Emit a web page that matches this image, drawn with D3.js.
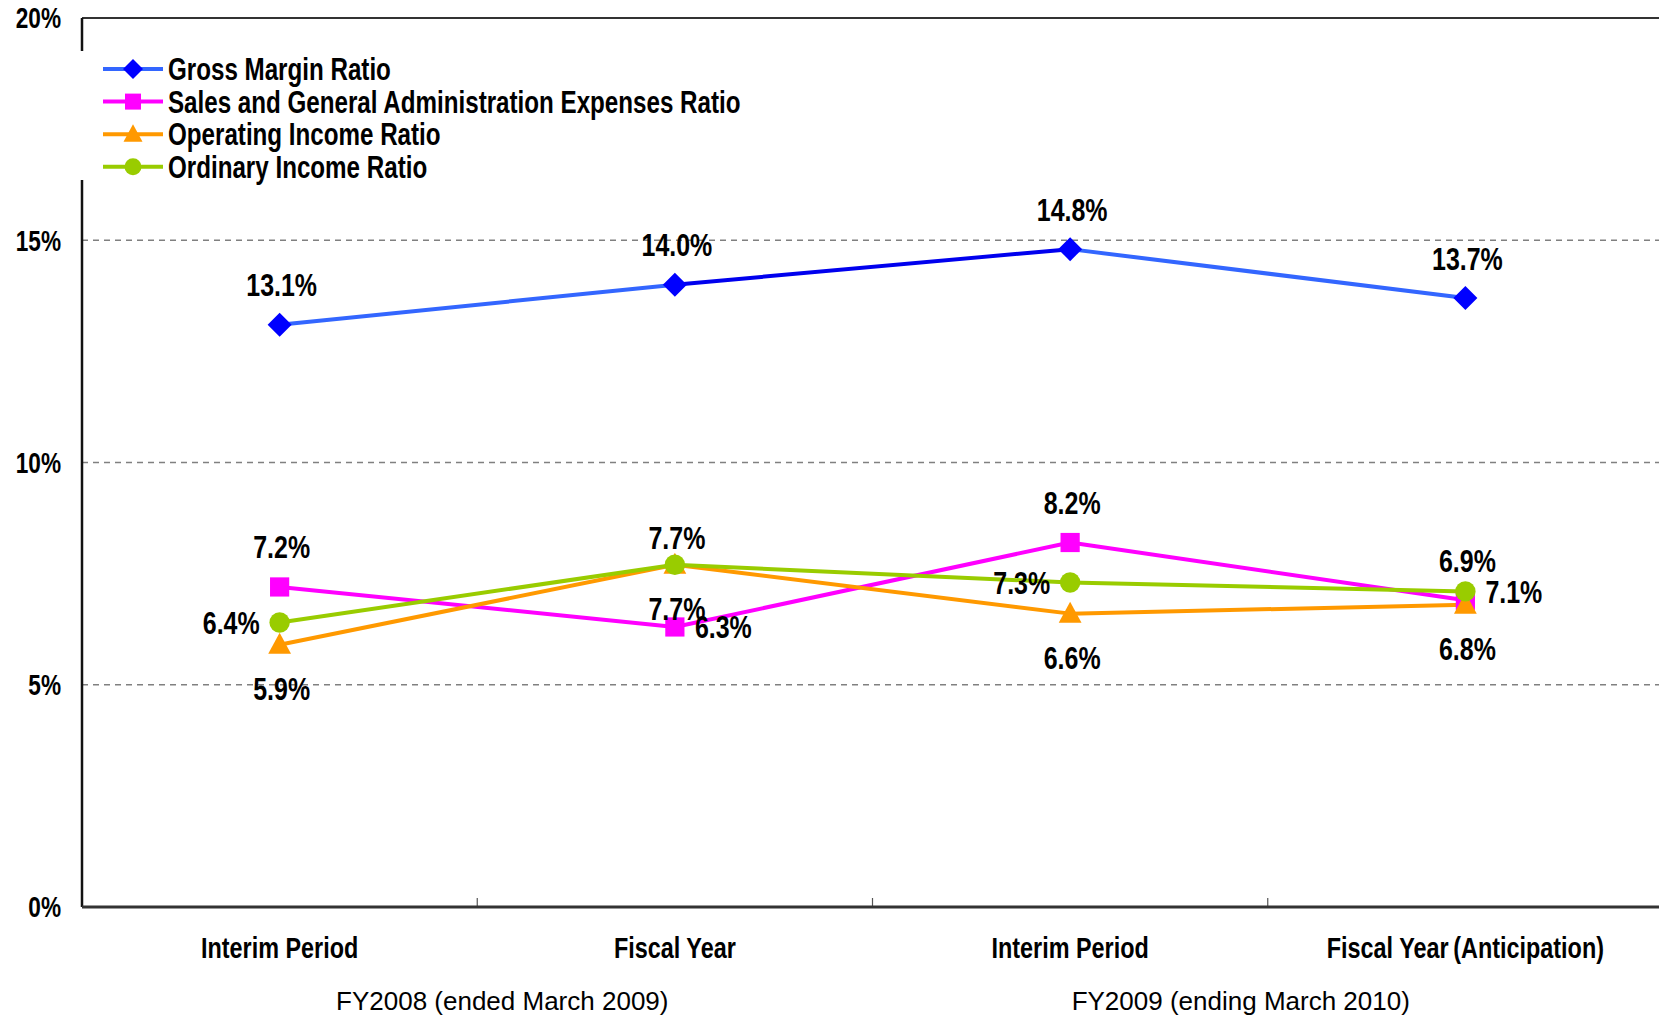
<!DOCTYPE html>
<html>
<head>
<meta charset="utf-8">
<script src="https://cdn.jsdelivr.net/npm/d3@7"></script>
<style>
  body { margin: 0; background: #fff; }
  .cond { font-family: "Liberation Sans", Arial, sans-serif; font-weight: bold; }
</style>
</head>
<body>
<div id="chart-area"></div>
<script>
const categories = ['Interim Period', 'Fiscal Year', 'Interim Period', 'Fiscal Year\u2009(Anticipation)']
const groups = ['FY2008 (ended March 2009)', 'FY2009 (ending March 2010)']
const yTicks = [0, 5, 10, 15, 20]

const grossMargin = [13.1, 14.0, 14.8, 13.7]
const sgaRatio = [7.2, 6.3, 8.2, 6.9]
const operatingIncome = [5.9, 7.7, 6.6, 6.8]
const ordinaryIncome = [6.4, 7.7, 7.3, 7.1]

const seriesNames = ['Gross Margin Ratio', 'Sales and General Administration Expenses Ratio',
  'Operating Income Ratio', 'Ordinary Income Ratio']

// label position per point: up, near (just above), down, left, right
const series = [
  { name: seriesNames[0], values: grossMargin, color: '#3366ff', marker: '#0000ff', shape: 'diamond',
    pos: ['up', 'up', 'up', 'up'] },
  { name: seriesNames[1], values: sgaRatio, color: '#ff00ff', marker: '#ff00ff', shape: 'square',
    pos: ['up', 'right', 'up', 'up'] },
  { name: seriesNames[2], values: operatingIncome, color: '#ff9900', marker: '#ff9900', shape: 'triangle',
    pos: ['down', 'down', 'down', 'down'] },
  { name: seriesNames[3], values: ordinaryIncome, color: '#99cc00', marker: '#99cc00', shape: 'circle',
    pos: ['left', 'near', 'left', 'right'] }
]

const W = 1659, H = 1019
const MARGIN = { LEFT: 82, RIGHT: -4, TOP: 18, BOTTOM: 112 }
const WIDTH = W - MARGIN.LEFT - MARGIN.RIGHT
const HEIGHT = H - MARGIN.TOP - MARGIN.BOTTOM
const SQUEEZE = 0.78

const svg = d3.select('#chart-area').append('svg')
  .attr('width', W)
  .attr('height', H)

const g = svg.append('g')
  .attr('transform', `translate(${MARGIN.LEFT}, ${MARGIN.TOP})`)

const x = d3.scaleBand()
  .domain(d3.range(categories.length))
  .range([0, WIDTH])

const y = d3.scaleLinear()
  .domain([0, 20])
  .range([HEIGHT, 0])

// narrow bold text: place with a transform so it can be squeezed
function placeCond(sel, fx, fy) {
  sel.attr('class', 'cond')
    .attr('transform', (d, i) => `translate(${fx(d, i)}, ${fy(d, i)}) scale(${SQUEEZE}, 1)`)
}

// grid
g.selectAll('.grid')
  .data(yTicks.filter(t => t > 0 && t < 20))
  .enter().append('line')
  .attr('x1', 0).attr('x2', WIDTH)
  .attr('y1', d => y(d)).attr('y2', d => y(d))
  .attr('stroke', '#808080')
  .attr('stroke-width', 1.3)
  .attr('stroke-dasharray', '6,5')

// frame
g.append('line').attr('x1', 0).attr('x2', WIDTH).attr('y1', 0).attr('y2', 0)
  .attr('stroke', '#333').attr('stroke-width', 2)
g.append('line').attr('x1', 0).attr('x2', 0).attr('y1', 0).attr('y2', HEIGHT)
  .attr('stroke', '#111').attr('stroke-width', 2.5)

// x axis ticks (inside, at band edges)
g.selectAll('.xtick')
  .data(d3.range(1, categories.length))
  .enter().append('line')
  .attr('x1', d => x(d)).attr('x2', d => x(d))
  .attr('y1', HEIGHT).attr('y2', HEIGHT - 9)
  .attr('stroke', '#555').attr('stroke-width', 1.2)
g.append('line').attr('x1', 0).attr('x2', WIDTH).attr('y1', HEIGHT).attr('y2', HEIGHT)
  .attr('stroke', '#333').attr('stroke-width', 3)

// y labels
g.selectAll('.ylab')
  .data(yTicks)
  .enter().append('text')
  .call(placeCond, () => -21, d => y(d))
  .attr('dy', '0.36em')
  .attr('text-anchor', 'end')
  .attr('font-size', 29)
  .text(d => d + '%')

// x labels
g.selectAll('.xlab')
  .data(categories)
  .enter().append('text')
  .call(placeCond, (d, i) => x(i) + x.bandwidth() / 2, () => HEIGHT + 51)
  .attr('text-anchor', 'middle')
  .attr('font-size', 30)
  .text(d => d)

// group labels
const groupShift = [25, -27]
g.selectAll('.glab')
  .data(groups)
  .enter().append('text')
  .attr('x', (d, i) => x(i * 2 + 1) + groupShift[i])
  .attr('y', HEIGHT + 103)
  .attr('text-anchor', 'middle')
  .attr('font-family', 'Liberation Sans, Arial, sans-serif')
  .attr('font-size', 26)
  .text(d => d)

function drawMarker(sel, shape, color, s) {
  if (shape === 'diamond') {
    sel.append('path').attr('d', `M0,${-s}L${s},0L0,${s}L${-s},0Z`).attr('fill', color)
  } else if (shape === 'square') {
    sel.append('rect').attr('x', -s * 0.8).attr('y', -s * 0.8).attr('width', s * 1.6).attr('height', s * 1.6).attr('fill', color)
  } else if (shape === 'triangle') {
    sel.append('path').attr('d', `M0,${-s}L${s * 0.95},${s * 0.75}L${-s * 0.95},${s * 0.75}Z`).attr('fill', color)
  } else {
    sel.append('circle').attr('r', s * 0.85).attr('fill', color)
  }
}

const cx = i => x(i) + x.bandwidth() / 2

// lines, drawn segment by segment
series.forEach((s, si) => {
  const segs = g.append('g')
  s.values.slice(1).forEach((v, i) => {
    segs.append('path')
      .datum([s.values[i], v])
      .attr('d', d3.line().x((d, k) => cx(i + k)).y(d => y(d)))
      .attr('fill', 'none')
      .attr('stroke', si === 0 && i === 1 ? '#0000ee' : s.color)
      .attr('stroke-width', 4)
  })
})

// markers
series.forEach(s => {
  s.values.forEach((v, i) => {
    const m = g.append('g').attr('transform', `translate(${cx(i)}, ${y(v)})`)
    drawMarker(m, s.shape, s.marker, 12)
  })
})

// data labels
const dxPos = { left: -20, right: 20, up: 2, near: 2, down: 2 }
const dyPos = { left: 0, right: 0, up: -40, near: -27, down: 44 }
series.forEach(s => {
  g.selectAll(null)
    .data(s.values)
    .enter().append('text')
    .call(placeCond,
      (d, i) => cx(i) + dxPos[s.pos[i]],
      (d, i) => y(d) + dyPos[s.pos[i]])
    .attr('font-size', 32)
    .attr('dy', '0.36em')
    .attr('text-anchor', (d, i) => s.pos[i] === 'left' ? 'end' : s.pos[i] === 'right' ? 'start' : 'middle')
    .text(d => d.toFixed(1) + '%')
})

// legend
const legend = svg.append('g')
legend.append('rect')
  .attr('x', 80).attr('y', 51).attr('width', 700).attr('height', 129)
  .attr('fill', '#fff')
const li = legend.selectAll('.li')
  .data(series)
  .enter().append('g')
  .attr('transform', (d, i) => `translate(103, ${69 + i * 32.6})`)
li.append('line')
  .attr('x1', 0).attr('x2', 60).attr('y1', 0).attr('y2', 0)
  .attr('stroke', d => d.color).attr('stroke-width', 4)
li.each(function (d) {
  const m = d3.select(this).append('g').attr('transform', 'translate(30, 0)')
  drawMarker(m, d.shape, d.marker, 10)
})
li.append('text')
  .call(placeCond, () => 65, () => 0)
  .attr('dy', '0.36em')
  .attr('font-size', 31)
  .text(d => d.name)
</script>
</body>
</html>
